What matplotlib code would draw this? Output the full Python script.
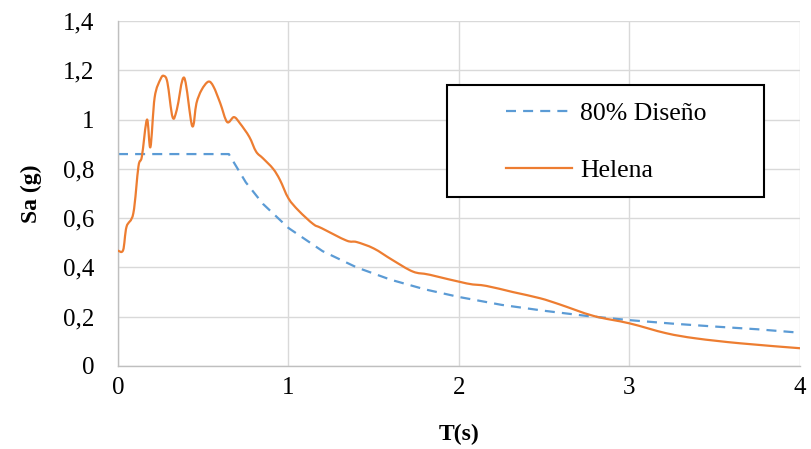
import matplotlib
matplotlib.use("Agg")
import matplotlib.pyplot as plt
from matplotlib.ticker import FixedLocator, FixedFormatter
from matplotlib.path import Path
from matplotlib.patches import PathPatch, Rectangle
from matplotlib.lines import Line2D

# ---- data ----
design_T = [0.0, 0.65, 0.75, 0.85, 1.0, 1.2, 1.4, 1.6, 1.8, 2.0, 2.25, 2.5,
            2.75, 3.0, 3.25, 3.5, 3.75, 4.0]
design_Sa = [0.86, 0.86, 0.745, 0.658, 0.56, 0.466, 0.40, 0.35, 0.311, 0.28,
             0.248, 0.224, 0.203, 0.186, 0.172, 0.160, 0.149, 0.135]

helena_T = [0.0, 0.03, 0.05, 0.09, 0.12, 0.14, 0.17, 0.19, 0.215, 0.25, 0.27,
            0.29, 0.32, 0.345, 0.388, 0.435, 0.46, 0.49, 0.53, 0.56,
            0.6, 0.64, 0.68, 0.715, 0.77, 0.81, 0.85, 0.91, 0.95, 1.0, 1.06,
            1.145, 1.195, 1.34, 1.4, 1.5, 1.61, 1.73, 1.83, 2.045, 2.16,
            2.316, 2.475, 2.59, 2.79, 3.0, 3.215, 3.39, 3.65, 4.0]
helena_Sa = [0.468, 0.47, 0.565, 0.62, 0.81, 0.85, 1.0, 0.888, 1.09, 1.165,
             1.177, 1.15, 1.01, 1.04, 1.17, 0.974, 1.066, 1.12, 1.154,
             1.134, 1.066, 0.99, 1.01, 0.985, 0.93, 0.87, 0.843, 0.80, 0.755,
             0.68, 0.63, 0.576, 0.559, 0.509, 0.503, 0.477, 0.43, 0.383, 0.37,
             0.335, 0.325, 0.30, 0.275, 0.25, 0.203, 0.173, 0.133, 0.112,
             0.092, 0.072]

x_ticks = [0, 1, 2, 3, 4]
x_tick_labels = ["0", "1", "2", "3", "4"]
y_ticks = [0, 0.2, 0.4, 0.6, 0.8, 1.0, 1.2, 1.4]
y_tick_labels = ["0", "0,2", "0,4", "0,6", "0,8", "1", "1,2", "1,4"]

series_labels = ["80% Diseño", "Helena"]

BLUE = '#5b9bd5'
ORANGE = '#ed7d31'

plt.rcParams['font.family'] = ['Liberation Serif', 'DejaVu Serif']

fig = plt.figure(figsize=(8.11, 4.49), dpi=100)
ax = fig.add_axes([0.1455, 0.1849, 0.8409, 0.7683])

ax.plot(design_T, design_Sa, color=BLUE, lw=1.6, dashes=(4.5, 3.2))


def smooth_path(xs, ys):
    """Bezier path (Excel-style smoothed line) through the data points."""
    verts = [(xs[0], ys[0])]
    codes = [Path.MOVETO]
    n = len(xs)
    for i in range(n - 1):
        x0, y0 = (xs[i - 1], ys[i - 1]) if i > 0 else (xs[i], ys[i])
        x1, y1 = xs[i], ys[i]
        x2, y2 = xs[i + 1], ys[i + 1]
        x3, y3 = (xs[i + 2], ys[i + 2]) if i + 2 < n else (x2, y2)
        c1 = (x1 + (x2 - x0) / 6.0, y1 + (y2 - y0) / 6.0)
        c2 = (x2 - (x3 - x1) / 6.0, y2 - (y3 - y1) / 6.0)
        verts += [c1, c2, (x2, y2)]
        codes += [Path.CURVE4] * 3
    return Path(verts, codes)


ax.add_patch(PathPatch(smooth_path(helena_T, helena_Sa), facecolor='none',
                       edgecolor=ORANGE, lw=1.6, joinstyle='round',
                       capstyle='round', zorder=3))

ax.set_xlim(0, 4)
ax.set_ylim(0, 1.4)
ax.xaxis.set_major_locator(FixedLocator(x_ticks))
ax.xaxis.set_major_formatter(FixedFormatter(x_tick_labels))
ax.yaxis.set_major_locator(FixedLocator(y_ticks))
ax.yaxis.set_major_formatter(FixedFormatter(y_tick_labels))
ax.tick_params(axis='both', length=0, labelsize=18, colors='black')
ax.tick_params(axis='y', pad=17)
ax.tick_params(axis='x', pad=8)

ax.grid(True, color='#d9d9d9', lw=1.0)
ax.set_axisbelow(True)
for s in ['top', 'right']:
    ax.spines[s].set_visible(False)
for s in ['left', 'bottom']:
    ax.spines[s].set_color('#bfbfbf')
    ax.spines[s].set_linewidth(1.0)

ax.set_xlabel("T(s)", fontsize=17, fontweight='bold')
ax.set_ylabel("Sa (g)", fontsize=17, fontweight='bold')
ax.xaxis.set_label_coords(0.5, -0.168)
ax.yaxis.set_label_coords(-0.112, 0.5)

# legend frame
ax.add_patch(Rectangle((0.482, 0.49), 0.465, 0.324, transform=ax.transAxes,
                       facecolor='white', edgecolor='black', lw=1.5,
                       zorder=4))
handles = [Line2D([], [], color=BLUE, lw=1.6, dashes=(4.5, 3.2)),
           Line2D([], [], color=ORANGE, lw=1.6)]
leg = ax.legend(handles, series_labels, loc='center',
                bbox_to_anchor=(0.716, 0.649), fontsize=18.5, frameon=False,
                labelspacing=1.3, handlelength=2.6, handletextpad=0.31,
                borderpad=0, borderaxespad=0)
leg.set_zorder(5)

fig.savefig("out.png", dpi=100)
